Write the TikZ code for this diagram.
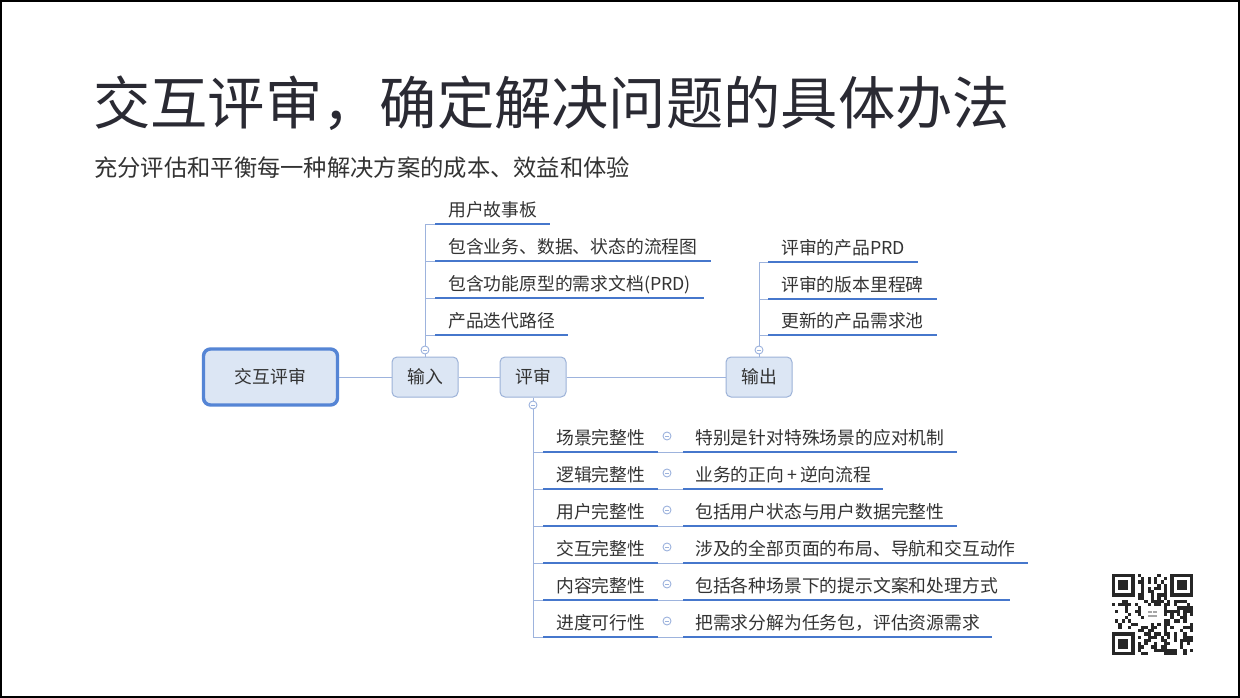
\documentclass[tikz,border=0pt]{standalone}
\usepackage{fontspec}
\setmainfont{Noto Sans CJK SC}
\definecolor{titlec}{HTML}{2A2A33}
\definecolor{txt}{HTML}{333333}
\definecolor{connc}{HTML}{9DB3DD}
\definecolor{ulinec}{HTML}{4677CC}
\definecolor{nodefill}{HTML}{DCE6F4}
\definecolor{nodeborder}{HTML}{9CB2D8}
\definecolor{rootborder}{HTML}{5585D5}
\begin{document}
\begin{tikzpicture}[x=1pt,y=-1pt,
  topic/.style={draw=nodeborder, fill=nodefill, rounded corners=5pt, minimum width=66pt, minimum height=40pt, line width=1pt, font=\fontsize{17.8}{20}\selectfont, text=txt, inner sep=0pt},
  roottopic/.style={draw=rootborder, fill=nodefill, rounded corners=7pt, minimum width=134pt, minimum height=56pt, line width=3.4pt, font=\fontsize{17.8}{20}\selectfont, text=txt, inner sep=0pt},
  conn/.style={draw=connc, line width=1pt},
  uline/.style={draw=ulinec, line width=2.8pt},
  child/.style={anchor=south west, inner xsep=13pt, inner ysep=0pt, text depth=7.5pt, font=\fontsize{17.8}{20}\selectfont, text=txt},
  childb/.style={child, inner xsep=12pt},
  coll/.style={circle, draw=connc, fill=white, line width=0.9pt, minimum size=8pt, inner sep=0pt,
    path picture={\draw[connc, line width=0.8pt] ([xshift=-2pt]path picture bounding box.center) -- ([xshift=2pt]path picture bounding box.center);}},
]
\useasboundingbox (0,0) rectangle (1240,698);
\fill[white] (0,0) rectangle (1240,698);
\draw[line width=2pt] (1,1) rectangle (1239,697);

% titles
\node[anchor=west, inner sep=0pt, font=\fontsize{57.3}{60}\selectfont, text=titlec] (title) at (93,103) {交互评审，确定解决问题的具体办法};
\node[anchor=west, inner sep=0pt, font=\fontsize{23.3}{26}\selectfont, text=txt] (subtitle) at (94,168) {充分评估和平衡每一种解决方案的成本、效益和体验};

% main topics
\node[roottopic] (root) at (270.5,377) {交互评审};
\node[topic] (in) at (425,377) {输入};
\node[topic] (rev) at (533,377) {评审};
\node[topic] (out) at (759,377) {输出};
\draw[conn] (root) -- (in);
\draw[conn] (in) -- (rev);
\draw[conn] (rev) -- (out);

% input branch
\node[coll] (cin) at (425,350) {};
\draw[conn] (in.north) -- (cin.south);
\node[child] (i1) at (435,224) {用户故事板};
\node[child] (i2) at (435,261) {包含业务、数据、状态的流程图};
\node[child] (i3) at (435,298) {包含功能原型的需求文档(PRD)};
\node[child] (i4) at (435,335) {产品迭代路径};
\draw[conn] (cin.north) -- (cin.north |- i1.south west) -- (i1.south west);
\foreach \n in {i2,i3,i4}{\draw[conn] (cin.north |- \n.south west) -- (\n.south west);}
\foreach \n in {i1,i2,i3,i4}{\draw[uline] (\n.south west) -- (\n.south east);}

% output branch
\node[coll] (cout) at (759,350) {};
\draw[conn] (out.north) -- (cout.south);
\node[child] (o1) at (768,262) {评审的产品PRD};
\node[child] (o2) at (768,299) {评审的版本里程碑};
\node[child] (o3) at (768,335) {更新的产品需求池};
\draw[conn] (cout.north) -- (cout.north |- o1.south west) -- (o1.south west);
\foreach \n in {o2,o3}{\draw[conn] (cout.north |- \n.south west) -- (\n.south west);}
\foreach \n in {o1,o2,o3}{\draw[uline] (\n.south west) -- (\n.south east);}

% review branch
\node[coll] (crev) at (533,405) {};
\draw[conn] (rev.south) -- (crev.north);
\foreach \k/\a/\b in {1/场景完整性/特别是针对特殊场景的应对机制,
                      2/逻辑完整性/业务的正向{\,}+{\,}逆向流程,
                      3/用户完整性/包括用户状态与用户数据完整性,
                      4/交互完整性/涉及的全部页面的布局、导航和交互动作,
                      5/内容完整性/包括各种场景下的提示文案和处理方式,
                      6/进度可行性/把需求分解为任务包，评估资源需求}{
  \pgfmathsetmacro{\yy}{452+37*(\k-1)}
  \node[child] (l\k) at (543,\yy) {\a};
  \node[childb] (r\k) at (683,\yy) {\b};
  \draw[conn] (l\k.south east) -- (r\k.south west);
  \draw[conn] (crev.south |- l\k.south west) -- (l\k.south west);
  \draw[uline] (l\k.south west) -- (l\k.south east);
  \draw[uline] (r\k.south west) -- (r\k.south east);
  \node[coll] (m\k) at (667,\yy-16) {};
}
\draw[conn] (crev.south) -- (crev.south |- l6.south west);

% QR code
\begin{scope}
\pgfmathsetseed{20}
\def\qm{3.24}
\foreach \i in {0,...,24}{
  \foreach \j in {0,...,24}{
    \pgfmathtruncatemacro{\skip}{((\i<8) && (\j<8)) || ((\i>16) && (\j<8)) || ((\i<8) && (\j>16)) || ((\i>9) && (\i<15) && (\j>9) && (\j<15))}
    \ifnum\skip=0
      \pgfmathtruncatemacro{\rr}{rnd<0.45}
      \ifnum\rr=1
        \fill[black!85] (1112+\i*\qm,574+\j*\qm) rectangle ++(\qm,\qm);
      \fi
    \fi
  }
}
\foreach \ox/\oy in {0/0,18/0,0/18}{
  \fill[black!85] (1112+\ox*\qm,574+\oy*\qm) rectangle ++(7*\qm,7*\qm);
  \fill[white] (1112+\ox*\qm+\qm,574+\oy*\qm+\qm) rectangle ++(5*\qm,5*\qm);
  \fill[black!85] (1112+\ox*\qm+2*\qm,574+\oy*\qm+2*\qm) rectangle ++(3*\qm,3*\qm);
}
\fill[white, rounded corners=2pt] (1112+10*\qm,574+10*\qm) rectangle ++(5*\qm,5*\qm);
\fill[gray!70] (1112+11*\qm,574+11.3*\qm) rectangle ++(1.2*\qm,0.8*\qm);
\fill[gray!70] (1112+12.8*\qm,574+11.3*\qm) rectangle ++(1.2*\qm,0.8*\qm);
\fill[gray!70] (1112+11*\qm,574+12.8*\qm) rectangle ++(3*\qm,0.5*\qm);
\end{scope}
\end{tikzpicture}
\end{document}
